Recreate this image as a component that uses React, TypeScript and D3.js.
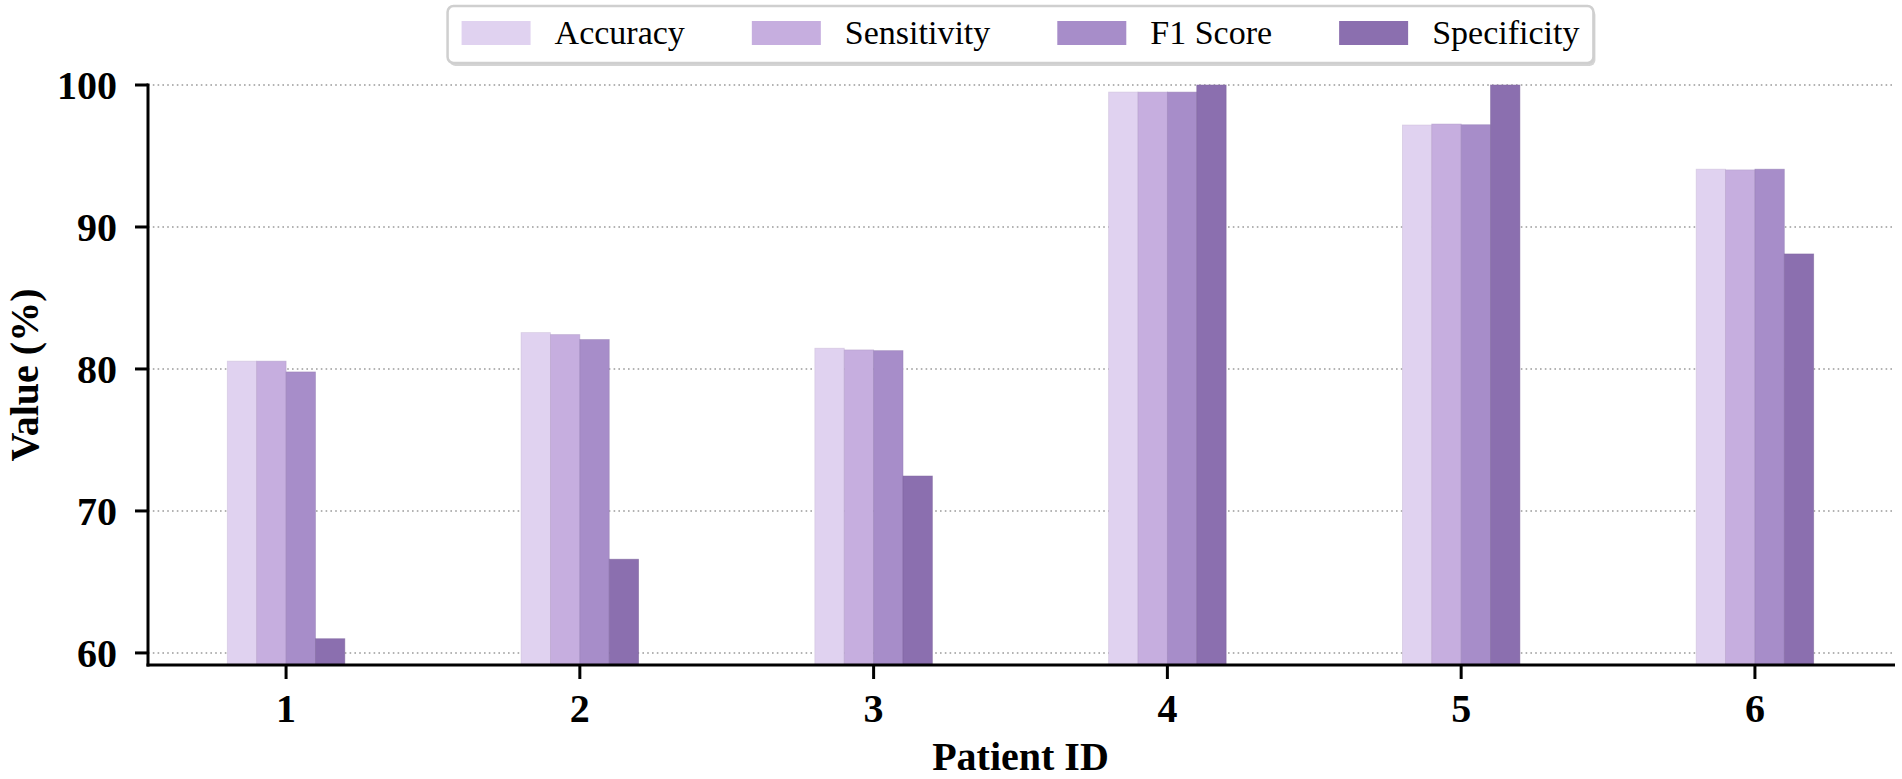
import * as d3 from 'd3';
import React, { useEffect, useRef } from 'react';

const patients = ['1', '2', '3', '4', '5', '6'];
const seriesNames = ['Accuracy', 'Sensitivity', 'F1 Score', 'Specificity'];
const accuracy = [80.55, 82.56, 81.46, 99.5, 97.18, 94.07];
const sensitivity = [80.55, 82.42, 81.34, 99.5, 97.25, 94.02];
const f1Score = [79.79, 82.07, 81.29, 99.5, 97.2, 94.07];
const specificity = [61.0, 66.6, 72.46, 100, 100, 88.1];
const yTicks = [60, 70, 80, 90, 100];
const colors = ['#e0d2f0', '#c6aedf', '#a78dc9', '#8b6faf'];

const W = 1902;
const H = 779;
const SERIF = "'Liberation Serif', 'Times New Roman', Times, 'DejaVu Serif', serif";

const App: React.FC = () => {
  const ref = useRef<SVGSVGElement>(null);

  useEffect(() => {
    if (!ref.current) return;
    const svg = d3.select(ref.current);
    svg.selectAll('*').remove();

    const left = 148, right = 1893, top = 85, bottom = 665;
    const values = [accuracy, sensitivity, f1Score, specificity];
    const barW = 0.1;

    const x = d3.scaleLinear().domain([0.53, 6.47]).range([left, right]);
    const y = d3.scaleLinear().domain([59.15, 100]).range([bottom, top]);

    // grid
    svg.append('g')
      .selectAll('line')
      .data(yTicks)
      .enter()
      .append('line')
      .attr('x1', left)
      .attr('x2', right)
      .attr('y1', d => y(d))
      .attr('y2', d => y(d))
      .attr('stroke', '#9a9a9a')
      .attr('stroke-width', 1.6)
      .attr('stroke-dasharray', '1.6,3.2');

    // bars
    values.forEach((vals, j) => {
      svg.append('g')
        .selectAll('rect')
        .data(vals)
        .enter()
        .append('rect')
        .attr('x', (d, i) => x(i + 1 + (j - 2) * barW))
        .attr('width', x(barW) - x(0))
        .attr('y', d => y(d))
        .attr('height', d => bottom - y(d))
        .attr('fill', colors[j])
        .attr('stroke', d3.color(colors[j])!.darker(0.3).toString())
        .attr('stroke-width', 0.8)
        .attr('stroke-opacity', 0.6);
    });

    // spines
    svg.append('line')
      .attr('x1', left).attr('x2', left)
      .attr('y1', top - 1.5).attr('y2', bottom + 1.5)
      .attr('stroke', '#000').attr('stroke-width', 3);
    svg.append('line')
      .attr('x1', left - 1.5).attr('x2', right + 2)
      .attr('y1', bottom).attr('y2', bottom)
      .attr('stroke', '#000').attr('stroke-width', 3);

    // y ticks
    const yt = svg.append('g');
    yt.selectAll('line')
      .data(yTicks)
      .enter()
      .append('line')
      .attr('x1', left - 13).attr('x2', left)
      .attr('y1', d => y(d)).attr('y2', d => y(d))
      .attr('stroke', '#000').attr('stroke-width', 3);
    yt.selectAll('text')
      .data(yTicks)
      .enter()
      .append('text')
      .attr('x', 117)
      .attr('y', d => y(d) + 14)
      .attr('text-anchor', 'end')
      .attr('font-family', SERIF)
      .attr('font-weight', 'bold')
      .attr('font-size', 40)
      .text(d => String(d));

    // x ticks
    const xt = svg.append('g');
    xt.selectAll('line')
      .data(patients)
      .enter()
      .append('line')
      .attr('x1', (d, i) => x(i + 1)).attr('x2', (d, i) => x(i + 1))
      .attr('y1', bottom).attr('y2', bottom + 14)
      .attr('stroke', '#000').attr('stroke-width', 3);
    xt.selectAll('text')
      .data(patients)
      .enter()
      .append('text')
      .attr('x', (d, i) => x(i + 1))
      .attr('y', 722)
      .attr('text-anchor', 'middle')
      .attr('font-family', SERIF)
      .attr('font-weight', 'bold')
      .attr('font-size', 40)
      .text(d => d);

    // axis titles
    svg.append('text')
      .attr('x', (left + right) / 2)
      .attr('y', 770)
      .attr('text-anchor', 'middle')
      .attr('font-family', SERIF)
      .attr('font-weight', 'bold')
      .attr('font-size', 40)
      .text('Patient ID');
    svg.append('text')
      .attr('transform', `translate(38,${(top + bottom) / 2}) rotate(-90)`)
      .attr('text-anchor', 'middle')
      .attr('font-family', SERIF)
      .attr('font-weight', 'bold')
      .attr('font-size', 40)
      .text('Value (%)');

    // legend
    const legend = svg.append('g');
    const lgTop = 6, lgH = 57;
    const sw = 69, swH = 24, pad = 24, colGap = 67, edge = 14;
    const items = legend.selectAll('g.item')
      .data(seriesNames)
      .enter()
      .append('g')
      .attr('class', 'item');
    items.append('rect')
      .attr('width', sw)
      .attr('height', swH)
      .attr('fill', (d, i) => colors[i]);
    const texts = items.append('text')
      .attr('x', sw + pad)
      .attr('y', swH / 2 + 11)
      .attr('font-family', SERIF)
      .attr('font-size', 34)
      .text(d => d);
    const widths: number[] = [];
    texts.each(function () { widths.push((this as SVGTextElement).getComputedTextLength()); });
    let total = edge * 2;
    widths.forEach((w, i) => { total += sw + pad + w + (i < widths.length - 1 ? colGap : 0); });
    const lgLeft = (left + right) / 2 - total / 2;
    let cx = lgLeft + edge;
    const offs: number[] = [];
    widths.forEach(w => { offs.push(cx); cx += sw + pad + w + colGap; });
    items.attr('transform', (d, i) => `translate(${offs[i]},${lgTop + 15})`);
    legend.insert('rect', ':first-child')
      .attr('x', lgLeft).attr('y', lgTop)
      .attr('width', total).attr('height', lgH)
      .attr('rx', 6)
      .attr('fill', '#fff')
      .attr('stroke', '#cfcfcf')
      .attr('stroke-width', 2.5);
    legend.insert('rect', ':first-child')
      .attr('x', lgLeft + 2).attr('y', lgTop + 3)
      .attr('width', total).attr('height', lgH)
      .attr('rx', 6)
      .attr('fill', '#d4d4d4');
  }, []);

  return (
    <svg
      ref={ref}
      width={W}
      height={H}
      style={{ position: 'absolute', left: 0, top: 0, background: '#fff' }}
    />
  );
};

export default App;
